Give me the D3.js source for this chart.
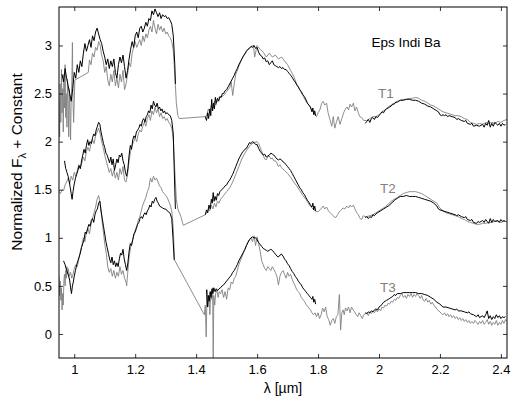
<!DOCTYPE html>
<html><head><meta charset="utf-8">
<script src="https://cdn.jsdelivr.net/npm/d3@7"></script>
<style>
html,body{margin:0;padding:0;background:#fff;}
text{font-family:"Liberation Sans",Arial,Helvetica,sans-serif;}
</style></head>
<body><svg id="c" width="512" height="396"></svg>
<script>
// ---------------- DATA ----------------
const xTicks = [1, 1.2, 1.4, 1.6, 1.8, 2, 2.2, 2.4];
const yTicks = [0, 0.5, 1, 1.5, 2, 2.5, 3];
const labels = [["Eps Indi Ba", 1.975, 2.98, "#000"], ["T1", 1.997, 2.45, "#808080"], ["T2", 2.003, 1.47, "#808080"], ["T3", 2.003, 0.44, "#808080"]];

// observed spectrum (black), T1 offset, bands J / H / K
const t1BlackJ = [[0.960,2.70],[0.965,2.62],[0.970,2.76],[0.975,2.66],[0.980,2.58],[0.985,2.50],[0.990,2.42],[0.995,2.55],[1.000,2.72],[1.005,2.66],[1.010,2.80],[1.015,2.72],[1.020,2.84],[1.025,2.78],[1.030,2.92],[1.035,3.02],[1.040,2.94],[1.045,3.00],[1.050,3.06],[1.055,2.98],[1.060,3.10],[1.065,3.05],[1.070,3.14],[1.075,3.18],[1.080,3.12],[1.085,3.06],[1.090,3.02],[1.095,2.94],[1.100,2.88],[1.105,2.80],[1.110,2.86],[1.115,2.76],[1.120,2.84],[1.125,2.78],[1.130,2.86],[1.135,2.72],[1.140,2.66],[1.145,2.80],[1.150,2.88],[1.155,2.82],[1.160,2.90],[1.165,2.78],[1.170,2.66],[1.175,2.74],[1.180,2.86],[1.185,2.96],[1.190,3.04],[1.195,2.98],[1.200,3.10],[1.205,3.14],[1.210,3.08],[1.215,3.18],[1.220,3.20],[1.225,3.14],[1.230,3.18],[1.235,3.24],[1.240,3.20],[1.245,3.28],[1.250,3.26],[1.255,3.36],[1.260,3.32],[1.265,3.38],[1.270,3.34],[1.275,3.30],[1.280,3.34],[1.285,3.28],[1.290,3.32],[1.295,3.30],[1.300,3.31],[1.305,3.28],[1.310,3.29],[1.315,3.26],[1.320,3.22],[1.325,3.10],[1.330,2.80],[1.332,2.60]];
const t1BlackH = [[1.430,2.26],[1.434,2.22],[1.438,2.30],[1.441,2.24],[1.445,2.34],[1.448,2.27],[1.451,2.44],[1.454,2.32],[1.457,2.40],[1.460,2.34],[1.463,2.46],[1.466,2.40],[1.470,2.45],[1.474,2.42],[1.478,2.47],[1.482,2.46],[1.486,2.50],[1.490,2.50],[1.495,2.53],[1.500,2.54],[1.505,2.57],[1.510,2.60],[1.515,2.63],[1.520,2.66],[1.525,2.69],[1.530,2.73],[1.535,2.76],[1.540,2.80],[1.545,2.83],[1.550,2.86],[1.555,2.89],[1.560,2.91],[1.565,2.94],[1.570,2.96],[1.575,2.97],[1.580,2.99],[1.585,2.98],[1.590,3.00],[1.595,2.97],[1.600,2.98],[1.605,2.93],[1.610,2.90],[1.615,2.89],[1.620,2.86],[1.625,2.87],[1.630,2.83],[1.635,2.84],[1.640,2.80],[1.645,2.82],[1.650,2.84],[1.655,2.80],[1.660,2.79],[1.665,2.78],[1.670,2.77],[1.675,2.78],[1.680,2.76],[1.685,2.77],[1.690,2.75],[1.695,2.75],[1.700,2.73],[1.705,2.71],[1.710,2.69],[1.715,2.67],[1.720,2.64],[1.725,2.62],[1.730,2.59],[1.735,2.57],[1.740,2.54],[1.745,2.52],[1.750,2.49],[1.755,2.47],[1.760,2.44],[1.765,2.40],[1.770,2.38],[1.775,2.36],[1.780,2.31],[1.783,2.35],[1.786,2.28],[1.789,2.32],[1.792,2.27]];
const t1BlackK = [[1.955,2.19],[1.960,2.21],[1.965,2.23],[1.970,2.20],[1.975,2.24],[1.980,2.25],[1.985,2.23],[1.990,2.26],[1.995,2.25],[2.000,2.27],[2.005,2.29],[2.010,2.31],[2.015,2.30],[2.020,2.33],[2.025,2.34],[2.030,2.35],[2.035,2.36],[2.040,2.37],[2.045,2.39],[2.050,2.39],[2.055,2.41],[2.060,2.41],[2.065,2.42],[2.070,2.43],[2.080,2.43],[2.090,2.44],[2.100,2.44],[2.110,2.43],[2.120,2.43],[2.130,2.42],[2.140,2.40],[2.150,2.39],[2.160,2.37],[2.170,2.36],[2.180,2.34],[2.190,2.32],[2.195,2.31],[2.200,2.28],[2.205,2.27],[2.210,2.28],[2.215,2.27],[2.220,2.28],[2.225,2.26],[2.230,2.27],[2.240,2.26],[2.250,2.25],[2.255,2.23],[2.260,2.24],[2.270,2.22],[2.280,2.21],[2.285,2.22],[2.290,2.19],[2.300,2.18],[2.305,2.19],[2.310,2.16],[2.320,2.17],[2.330,2.16],[2.340,2.18],[2.345,2.15],[2.350,2.19],[2.355,2.17],[2.360,2.22],[2.365,2.15],[2.370,2.19],[2.375,2.16],[2.380,2.20],[2.390,2.17],[2.395,2.19],[2.400,2.16],[2.405,2.19],[2.410,2.17],[2.415,2.18]];
// T1 template (gray)
const t1Gray = [[0.950,2.45],[0.952,2.05],[0.954,2.60],[0.956,2.20],[0.958,2.75],[0.960,2.30],[0.962,2.55],[0.964,2.10],[0.966,2.70],[0.968,2.35],[0.970,2.80],[0.972,2.25],[0.974,2.50],[0.976,2.15],[0.978,2.65],[0.980,2.40],[0.982,2.05],[0.984,2.55],[0.986,2.30],[0.988,2.02],[0.990,2.45],[0.992,2.60],[0.994,3.03],[0.996,2.40],[0.998,2.20],[1.002,2.64],[1.046,2.72],[1.050,2.85],[1.055,2.80],[1.060,2.92],[1.065,2.88],[1.070,2.98],[1.075,2.95],[1.080,3.04],[1.085,3.00],[1.090,2.90],[1.095,2.84],[1.100,2.72],[1.105,2.78],[1.110,2.64],[1.115,2.58],[1.120,2.70],[1.125,2.62],[1.130,2.74],[1.135,2.58],[1.140,2.66],[1.145,2.56],[1.150,2.70],[1.155,2.62],[1.160,2.74],[1.165,2.54],[1.170,2.60],[1.175,2.70],[1.180,2.82],[1.185,2.78],[1.190,2.92],[1.195,2.98],[1.200,3.04],[1.205,2.98],[1.210,3.02],[1.215,3.06],[1.220,3.00],[1.225,3.10],[1.230,3.04],[1.235,3.12],[1.240,3.08],[1.245,3.16],[1.250,3.20],[1.255,3.14],[1.260,3.26],[1.265,3.18],[1.270,3.12],[1.275,3.22],[1.280,3.16],[1.285,3.20],[1.290,3.14],[1.295,3.18],[1.300,3.12],[1.305,3.14],[1.310,3.10],[1.315,3.08],[1.320,3.04],[1.325,2.95],[1.330,2.70],[1.335,2.40],[1.340,2.27],[1.345,2.24],[1.430,2.26],[1.435,2.28],[1.440,2.34],[1.445,2.30],[1.450,2.38],[1.455,2.35],[1.460,2.42],[1.465,2.38],[1.470,2.45],[1.480,2.46],[1.490,2.48],[1.500,2.52],[1.510,2.56],[1.515,2.62],[1.520,2.48],[1.525,2.60],[1.530,2.70],[1.540,2.78],[1.550,2.86],[1.560,2.92],[1.570,2.96],[1.580,2.99],[1.588,3.00],[1.592,2.88],[1.600,3.00],[1.610,2.96],[1.620,2.93],[1.630,2.88],[1.640,2.92],[1.650,2.88],[1.660,2.90],[1.670,2.86],[1.680,2.88],[1.690,2.84],[1.700,2.80],[1.710,2.74],[1.720,2.68],[1.730,2.60],[1.740,2.54],[1.750,2.48],[1.760,2.42],[1.770,2.38],[1.780,2.33],[1.790,2.28],[1.795,2.26],[1.800,2.30],[1.806,2.33],[1.812,2.40],[1.817,2.42],[1.822,2.38],[1.828,2.40],[1.833,2.30],[1.839,2.23],[1.845,2.16],[1.850,2.26],[1.855,2.14],[1.860,2.20],[1.866,2.26],[1.872,2.18],[1.878,2.24],[1.884,2.30],[1.890,2.34],[1.895,2.36],[1.900,2.33],[1.905,2.39],[1.910,2.36],[1.916,2.40],[1.921,2.32],[1.926,2.36],[1.932,2.30],[1.937,2.26],[1.943,2.25],[1.950,2.22],[1.960,2.22],[1.970,2.24],[1.980,2.26],[1.990,2.26],[2.000,2.28],[2.010,2.31],[2.020,2.33],[2.030,2.36],[2.040,2.38],[2.050,2.40],[2.060,2.42],[2.070,2.43],[2.080,2.44],[2.090,2.44],[2.100,2.45],[2.110,2.45],[2.120,2.46],[2.130,2.45],[2.140,2.43],[2.150,2.42],[2.160,2.40],[2.170,2.38],[2.180,2.37],[2.190,2.35],[2.200,2.33],[2.210,2.31],[2.220,2.30],[2.230,2.29],[2.240,2.28],[2.250,2.27],[2.260,2.27],[2.270,2.26],[2.280,2.24],[2.290,2.23],[2.300,2.20],[2.310,2.19],[2.320,2.18],[2.330,2.19],[2.340,2.18],[2.350,2.20],[2.360,2.19],[2.370,2.20],[2.380,2.19],[2.390,2.21],[2.400,2.20],[2.410,2.22],[2.420,2.23]];

// T2 offset
const t2BlackJ = [[0.968,1.80],[0.972,1.72],[0.976,1.68],[0.980,1.64],[0.984,1.58],[0.987,1.52],[0.990,1.46],[0.993,1.40],[0.996,1.48],[1.000,1.56],[1.004,1.62],[1.008,1.66],[1.012,1.70],[1.016,1.75],[1.020,1.72],[1.024,1.80],[1.028,1.86],[1.032,1.92],[1.036,1.88],[1.040,1.96],[1.044,2.02],[1.048,1.96],[1.052,2.00],[1.056,1.98],[1.060,2.04],[1.064,2.08],[1.068,2.06],[1.072,2.12],[1.076,2.16],[1.080,2.20],[1.084,2.18],[1.088,2.10],[1.092,2.04],[1.096,1.98],[1.100,1.94],[1.104,1.88],[1.108,1.86],[1.112,1.82],[1.116,1.78],[1.120,1.84],[1.124,1.76],[1.128,1.82],[1.132,1.70],[1.136,1.76],[1.140,1.82],[1.144,1.78],[1.148,1.86],[1.152,1.84],[1.156,1.88],[1.160,1.80],[1.164,1.76],[1.168,1.68],[1.172,1.64],[1.176,1.72],[1.180,1.86],[1.184,1.96],[1.188,1.92],[1.192,2.02],[1.196,2.06],[1.200,2.04],[1.204,2.10],[1.208,2.12],[1.212,2.14],[1.216,2.18],[1.220,2.16],[1.224,2.22],[1.228,2.24],[1.232,2.20],[1.236,2.26],[1.240,2.28],[1.244,2.32],[1.248,2.30],[1.252,2.38],[1.256,2.34],[1.260,2.42],[1.264,2.38],[1.268,2.36],[1.272,2.40],[1.276,2.34],[1.280,2.36],[1.284,2.32],[1.288,2.34],[1.292,2.30],[1.296,2.32],[1.300,2.29],[1.305,2.30],[1.310,2.28],[1.315,2.27],[1.320,2.22],[1.325,2.08],[1.329,1.60],[1.332,1.30]];
const t2BlackH = [[1.430,1.24],[1.434,1.29],[1.438,1.26],[1.442,1.34],[1.446,1.30],[1.450,1.40],[1.453,1.36],[1.456,1.47],[1.459,1.38],[1.462,1.43],[1.466,1.39],[1.470,1.46],[1.474,1.44],[1.478,1.48],[1.484,1.50],[1.490,1.52],[1.495,1.54],[1.500,1.55],[1.505,1.58],[1.510,1.60],[1.515,1.63],[1.520,1.66],[1.525,1.70],[1.530,1.74],[1.535,1.78],[1.540,1.82],[1.545,1.85],[1.550,1.88],[1.555,1.90],[1.560,1.92],[1.565,1.93],[1.570,1.96],[1.575,1.99],[1.580,1.98],[1.585,2.00],[1.590,1.99],[1.595,1.97],[1.600,1.97],[1.605,1.93],[1.610,1.90],[1.615,1.88],[1.620,1.86],[1.625,1.87],[1.630,1.84],[1.635,1.85],[1.640,1.86],[1.645,1.88],[1.650,1.87],[1.655,1.86],[1.660,1.84],[1.665,1.82],[1.670,1.81],[1.675,1.82],[1.680,1.81],[1.685,1.79],[1.690,1.78],[1.695,1.76],[1.700,1.74],[1.705,1.72],[1.710,1.70],[1.715,1.67],[1.720,1.64],[1.725,1.61],[1.730,1.58],[1.735,1.55],[1.740,1.52],[1.745,1.50],[1.750,1.47],[1.755,1.45],[1.760,1.42],[1.765,1.39],[1.770,1.37],[1.775,1.34],[1.780,1.32],[1.783,1.36],[1.786,1.29],[1.789,1.33],[1.792,1.28]];
const t2BlackK = [[1.955,1.21],[1.960,1.22],[1.965,1.20],[1.970,1.22],[1.975,1.21],[1.980,1.24],[1.985,1.23],[1.990,1.25],[1.995,1.26],[2.000,1.27],[2.005,1.28],[2.010,1.29],[2.015,1.30],[2.020,1.31],[2.025,1.32],[2.030,1.33],[2.035,1.34],[2.040,1.36],[2.045,1.37],[2.050,1.39],[2.055,1.40],[2.060,1.41],[2.065,1.42],[2.070,1.43],[2.080,1.43],[2.090,1.44],[2.100,1.43],[2.110,1.43],[2.120,1.43],[2.130,1.42],[2.140,1.41],[2.150,1.40],[2.160,1.39],[2.170,1.38],[2.180,1.36],[2.190,1.33],[2.195,1.30],[2.200,1.29],[2.210,1.28],[2.220,1.27],[2.230,1.26],[2.240,1.25],[2.250,1.24],[2.255,1.23],[2.260,1.24],[2.270,1.22],[2.280,1.21],[2.285,1.22],[2.290,1.19],[2.300,1.18],[2.305,1.19],[2.310,1.16],[2.320,1.15],[2.325,1.17],[2.330,1.16],[2.340,1.18],[2.345,1.16],[2.350,1.19],[2.355,1.17],[2.360,1.15],[2.365,1.20],[2.370,1.16],[2.375,1.19],[2.380,1.17],[2.390,1.18],[2.395,1.16],[2.400,1.19],[2.405,1.17],[2.410,1.18],[2.415,1.17]];
const t2Gray = [[0.950,1.48],[0.955,1.46],[0.960,1.50],[0.965,1.49],[0.970,1.55],[0.975,1.58],[0.980,1.62],[0.985,1.56],[0.990,1.64],[0.995,1.60],[1.000,1.68],[1.005,1.64],[1.010,1.70],[1.015,1.76],[1.020,1.72],[1.025,1.78],[1.030,1.84],[1.035,1.80],[1.040,1.90],[1.045,1.94],[1.050,1.90],[1.055,1.98],[1.060,2.02],[1.065,1.98],[1.070,2.06],[1.075,2.10],[1.080,2.14],[1.085,2.08],[1.090,2.00],[1.095,1.94],[1.100,1.86],[1.105,1.80],[1.110,1.74],[1.115,1.68],[1.120,1.72],[1.125,1.64],[1.130,1.70],[1.135,1.62],[1.140,1.68],[1.145,1.60],[1.150,1.72],[1.155,1.66],[1.160,1.74],[1.165,1.60],[1.170,1.58],[1.175,1.66],[1.180,1.80],[1.185,1.90],[1.190,1.96],[1.195,2.00],[1.200,2.04],[1.205,2.00],[1.210,2.08],[1.215,2.12],[1.220,2.10],[1.225,2.16],[1.230,2.20],[1.235,2.16],[1.240,2.24],[1.245,2.28],[1.250,2.22],[1.255,2.32],[1.260,2.28],[1.265,2.36],[1.270,2.30],[1.275,2.34],[1.280,2.26],[1.285,2.30],[1.290,2.24],[1.295,2.26],[1.300,2.22],[1.305,2.24],[1.310,2.20],[1.315,2.18],[1.320,2.14],[1.325,2.02],[1.330,1.70],[1.335,1.40],[1.340,1.30],[1.345,1.26],[1.350,1.22],[1.355,1.16],[1.358,1.13],[1.430,1.24],[1.435,1.26],[1.440,1.30],[1.445,1.28],[1.450,1.34],[1.455,1.30],[1.460,1.36],[1.465,1.32],[1.470,1.38],[1.475,1.36],[1.480,1.40],[1.490,1.44],[1.500,1.48],[1.510,1.52],[1.520,1.58],[1.530,1.66],[1.540,1.74],[1.550,1.82],[1.560,1.88],[1.570,1.93],[1.580,1.97],[1.590,1.99],[1.600,2.00],[1.605,1.98],[1.610,1.94],[1.615,1.90],[1.620,1.86],[1.625,1.82],[1.630,1.81],[1.635,1.84],[1.640,1.85],[1.645,1.82],[1.650,1.83],[1.655,1.80],[1.660,1.80],[1.665,1.78],[1.670,1.74],[1.675,1.76],[1.680,1.73],[1.690,1.70],[1.700,1.67],[1.710,1.63],[1.720,1.58],[1.730,1.54],[1.740,1.49],[1.750,1.44],[1.760,1.40],[1.770,1.35],[1.780,1.31],[1.790,1.28],[1.800,1.27],[1.806,1.29],[1.812,1.31],[1.817,1.33],[1.822,1.30],[1.828,1.32],[1.834,1.28],[1.840,1.26],[1.846,1.24],[1.852,1.22],[1.858,1.21],[1.864,1.24],[1.870,1.27],[1.876,1.29],[1.882,1.31],[1.888,1.30],[1.894,1.33],[1.900,1.31],[1.905,1.34],[1.910,1.32],[1.916,1.34],[1.921,1.30],[1.927,1.26],[1.932,1.24],[1.938,1.20],[1.943,1.19],[1.948,1.23],[1.954,1.22],[1.960,1.22],[1.970,1.23],[1.980,1.24],[1.990,1.26],[2.000,1.28],[2.010,1.30],[2.020,1.32],[2.030,1.35],[2.040,1.38],[2.050,1.40],[2.060,1.42],[2.070,1.44],[2.080,1.46],[2.090,1.47],[2.100,1.48],[2.110,1.48],[2.120,1.48],[2.130,1.47],[2.140,1.46],[2.150,1.44],[2.160,1.42],[2.170,1.40],[2.180,1.38],[2.190,1.36],[2.200,1.31],[2.210,1.28],[2.220,1.26],[2.230,1.25],[2.240,1.24],[2.250,1.23],[2.260,1.22],[2.270,1.20],[2.280,1.19],[2.290,1.17],[2.300,1.16],[2.310,1.15],[2.320,1.14],[2.330,1.14],[2.340,1.15],[2.350,1.15],[2.360,1.16],[2.370,1.16],[2.380,1.17],[2.390,1.17],[2.400,1.16],[2.410,1.17],[2.420,1.17]];

// T3 offset
const t3BlackJ = [[0.965,0.76],[0.970,0.72],[0.975,0.66],[0.980,0.62],[0.985,0.56],[0.988,0.48],[0.991,0.42],[0.994,0.50],[0.997,0.54],[1.000,0.60],[1.004,0.66],[1.008,0.72],[1.012,0.76],[1.016,0.80],[1.020,0.84],[1.024,0.90],[1.028,0.94],[1.032,0.98],[1.036,1.06],[1.040,1.04],[1.044,1.10],[1.048,1.14],[1.052,1.12],[1.056,1.18],[1.060,1.20],[1.064,1.16],[1.068,1.24],[1.072,1.28],[1.076,1.30],[1.080,1.36],[1.084,1.38],[1.088,1.28],[1.092,1.20],[1.096,1.12],[1.100,1.04],[1.104,0.96],[1.108,0.90],[1.112,0.84],[1.116,0.78],[1.120,0.74],[1.124,0.80],[1.128,0.72],[1.132,0.76],[1.136,0.70],[1.140,0.74],[1.144,0.70],[1.148,0.78],[1.152,0.84],[1.156,0.82],[1.160,0.88],[1.164,0.78],[1.168,0.72],[1.172,0.66],[1.176,0.74],[1.180,0.86],[1.184,0.94],[1.188,0.92],[1.192,0.98],[1.196,1.04],[1.200,1.06],[1.204,1.10],[1.208,1.14],[1.212,1.16],[1.216,1.20],[1.220,1.22],[1.224,1.20],[1.228,1.24],[1.232,1.26],[1.236,1.24],[1.240,1.28],[1.244,1.30],[1.248,1.34],[1.252,1.32],[1.256,1.38],[1.260,1.36],[1.264,1.40],[1.268,1.42],[1.272,1.38],[1.276,1.36],[1.280,1.33],[1.285,1.32],[1.290,1.31],[1.295,1.30],[1.300,1.30],[1.305,1.28],[1.310,1.27],[1.315,1.25],[1.320,1.20],[1.324,1.00],[1.328,0.77]];
const t3BlackH = [[1.434,0.46],[1.437,0.28],[1.440,0.40],[1.443,0.34],[1.446,0.44],[1.449,0.38],[1.452,0.47],[1.455,0.42],[1.458,0.48],[1.462,0.44],[1.466,0.47],[1.470,0.45],[1.475,0.47],[1.480,0.48],[1.485,0.50],[1.490,0.51],[1.495,0.53],[1.500,0.55],[1.505,0.57],[1.510,0.59],[1.515,0.61],[1.520,0.64],[1.525,0.66],[1.530,0.69],[1.535,0.72],[1.540,0.76],[1.545,0.79],[1.550,0.82],[1.555,0.85],[1.560,0.88],[1.565,0.92],[1.570,0.95],[1.575,0.98],[1.580,1.00],[1.585,1.01],[1.590,1.00],[1.595,1.00],[1.600,0.98],[1.605,0.95],[1.610,0.93],[1.615,0.91],[1.620,0.89],[1.625,0.88],[1.630,0.87],[1.635,0.86],[1.640,0.87],[1.645,0.88],[1.650,0.87],[1.655,0.85],[1.660,0.83],[1.665,0.81],[1.670,0.80],[1.675,0.82],[1.680,0.83],[1.685,0.81],[1.690,0.78],[1.695,0.76],[1.700,0.73],[1.705,0.71],[1.710,0.68],[1.715,0.65],[1.720,0.63],[1.725,0.60],[1.730,0.58],[1.735,0.55],[1.740,0.53],[1.745,0.51],[1.750,0.48],[1.755,0.46],[1.760,0.44],[1.765,0.42],[1.770,0.40],[1.775,0.38],[1.780,0.36],[1.783,0.39],[1.786,0.33],[1.789,0.36],[1.792,0.31]];
const t3BlackK = [[1.955,0.22],[1.960,0.21],[1.965,0.23],[1.970,0.22],[1.975,0.24],[1.980,0.23],[1.985,0.25],[1.990,0.26],[1.995,0.25],[2.000,0.28],[2.005,0.29],[2.010,0.31],[2.015,0.33],[2.020,0.34],[2.025,0.35],[2.030,0.36],[2.035,0.37],[2.040,0.38],[2.045,0.39],[2.050,0.41],[2.055,0.40],[2.060,0.42],[2.070,0.42],[2.080,0.43],[2.090,0.43],[2.100,0.43],[2.110,0.43],[2.120,0.43],[2.130,0.42],[2.140,0.42],[2.150,0.41],[2.160,0.40],[2.170,0.38],[2.180,0.36],[2.190,0.33],[2.200,0.31],[2.210,0.28],[2.220,0.28],[2.230,0.27],[2.240,0.26],[2.250,0.25],[2.255,0.26],[2.260,0.24],[2.270,0.24],[2.280,0.23],[2.290,0.22],[2.295,0.23],[2.300,0.21],[2.310,0.20],[2.320,0.18],[2.325,0.20],[2.330,0.17],[2.340,0.19],[2.345,0.17],[2.350,0.20],[2.355,0.24],[2.360,0.16],[2.365,0.19],[2.370,0.15],[2.375,0.18],[2.380,0.16],[2.385,0.20],[2.390,0.17],[2.395,0.19],[2.400,0.16],[2.405,0.18],[2.410,0.17],[2.415,0.18]];
const t3Gray = [[0.950,0.60],[0.952,0.40],[0.954,0.55],[0.956,0.35],[0.958,0.48],[0.960,0.25],[0.962,0.42],[0.964,0.30],[0.966,0.55],[0.968,0.62],[0.970,0.50],[0.972,0.66],[0.974,0.58],[0.976,0.70],[0.978,0.62],[0.980,0.68],[0.984,0.60],[0.988,0.64],[0.992,0.58],[0.996,0.62],[1.000,0.68],[1.005,0.72],[1.010,0.70],[1.015,0.78],[1.020,0.86],[1.025,0.92],[1.030,1.00],[1.035,0.96],[1.040,1.06],[1.045,1.10],[1.050,1.04],[1.055,1.14],[1.060,1.20],[1.065,1.26],[1.070,1.32],[1.075,1.40],[1.080,1.44],[1.085,1.36],[1.090,1.22],[1.095,1.08],[1.100,0.94],[1.105,0.84],[1.110,0.70],[1.115,0.64],[1.120,0.68],[1.125,0.60],[1.130,0.66],[1.135,0.58],[1.140,0.64],[1.145,0.60],[1.150,0.70],[1.155,0.62],[1.160,0.66],[1.165,0.58],[1.170,0.54],[1.172,0.50],[1.175,0.62],[1.180,0.80],[1.185,0.90],[1.190,0.96],[1.195,1.02],[1.200,1.08],[1.205,1.12],[1.210,1.18],[1.215,1.22],[1.220,1.28],[1.225,1.34],[1.230,1.38],[1.235,1.42],[1.240,1.48],[1.245,1.52],[1.250,1.62],[1.255,1.58],[1.260,1.64],[1.265,1.60],[1.270,1.62],[1.275,1.58],[1.280,1.54],[1.285,1.52],[1.290,1.48],[1.295,1.46],[1.300,1.44],[1.305,1.42],[1.310,1.38],[1.315,1.34],[1.320,1.28],[1.325,1.10],[1.329,0.77],[1.427,0.20],[1.430,0.30],[1.433,-0.03],[1.436,0.46],[1.439,0.28],[1.442,0.40],[1.445,0.20],[1.448,0.44],[1.451,0.36],[1.454,0.48],[1.456,-0.25],[1.458,0.40],[1.461,0.30],[1.464,0.42],[1.468,0.46],[1.472,0.38],[1.476,0.44],[1.480,0.42],[1.485,0.46],[1.490,0.38],[1.495,0.44],[1.500,0.36],[1.505,0.48],[1.510,0.46],[1.515,0.54],[1.520,0.52],[1.525,0.58],[1.530,0.60],[1.535,0.66],[1.540,0.72],[1.545,0.76],[1.550,0.80],[1.555,0.84],[1.560,0.88],[1.565,0.92],[1.570,0.96],[1.575,0.98],[1.580,1.00],[1.585,0.96],[1.590,1.02],[1.595,0.92],[1.600,1.01],[1.605,0.94],[1.610,0.86],[1.615,0.76],[1.620,0.72],[1.625,0.68],[1.630,0.66],[1.635,0.70],[1.640,0.68],[1.645,0.66],[1.650,0.70],[1.655,0.67],[1.660,0.64],[1.665,0.60],[1.670,0.51],[1.675,0.60],[1.680,0.64],[1.685,0.66],[1.690,0.62],[1.695,0.58],[1.700,0.64],[1.705,0.60],[1.710,0.62],[1.715,0.57],[1.720,0.53],[1.725,0.50],[1.730,0.46],[1.735,0.44],[1.740,0.42],[1.745,0.38],[1.750,0.36],[1.755,0.34],[1.760,0.31],[1.765,0.29],[1.770,0.27],[1.775,0.25],[1.780,0.22],[1.785,0.20],[1.790,0.22],[1.795,0.18],[1.800,0.22],[1.805,0.16],[1.810,0.20],[1.815,0.27],[1.820,0.23],[1.825,0.28],[1.830,0.18],[1.835,0.15],[1.840,0.09],[1.845,0.14],[1.850,0.16],[1.855,0.11],[1.860,0.18],[1.865,0.20],[1.870,0.41],[1.874,0.04],[1.878,0.22],[1.882,0.25],[1.886,0.20],[1.890,0.27],[1.895,0.24],[1.900,0.28],[1.905,0.22],[1.910,0.28],[1.915,0.25],[1.920,0.23],[1.925,0.20],[1.930,0.18],[1.935,0.22],[1.940,0.19],[1.945,0.16],[1.950,0.20],[1.955,0.21],[1.960,0.22],[1.965,0.19],[1.970,0.23],[1.975,0.21],[1.980,0.24],[1.985,0.22],[1.990,0.25],[1.995,0.23],[2.000,0.26],[2.005,0.24],[2.010,0.28],[2.015,0.27],[2.020,0.30],[2.025,0.29],[2.030,0.32],[2.035,0.31],[2.040,0.34],[2.045,0.33],[2.050,0.36],[2.055,0.35],[2.060,0.38],[2.065,0.37],[2.070,0.40],[2.075,0.42],[2.080,0.38],[2.085,0.40],[2.090,0.37],[2.095,0.41],[2.100,0.39],[2.105,0.42],[2.110,0.38],[2.115,0.41],[2.120,0.39],[2.125,0.42],[2.130,0.40],[2.135,0.37],[2.140,0.40],[2.145,0.35],[2.150,0.34],[2.155,0.37],[2.160,0.33],[2.165,0.35],[2.170,0.31],[2.175,0.33],[2.180,0.30],[2.185,0.28],[2.190,0.26],[2.195,0.24],[2.200,0.23],[2.205,0.21],[2.210,0.20],[2.215,0.22],[2.220,0.19],[2.225,0.21],[2.230,0.18],[2.235,0.20],[2.240,0.17],[2.245,0.19],[2.250,0.16],[2.255,0.18],[2.260,0.15],[2.265,0.17],[2.270,0.14],[2.275,0.16],[2.280,0.13],[2.285,0.15],[2.290,0.12],[2.295,0.14],[2.300,0.11],[2.305,0.13],[2.310,0.11],[2.315,0.14],[2.320,0.12],[2.325,0.10],[2.330,0.13],[2.335,0.11],[2.340,0.14],[2.345,0.10],[2.350,0.12],[2.355,0.15],[2.360,0.10],[2.365,0.13],[2.370,0.09],[2.375,0.12],[2.380,0.10],[2.385,0.14],[2.390,0.09],[2.395,0.12],[2.400,0.10],[2.405,0.14],[2.410,0.11],[2.415,0.15],[2.420,0.13]];

// ---------------- CHART ----------------
const svg = d3.select("#c");
const L = 59, R = 507, T = 7, B = 358;
const x = d3.scaleLinear().domain([0.95, 2.42]).range([L, R]);
const y = d3.scaleLinear().domain([-0.25, 3.4]).range([B, T]);
const GRAY = "#808080";

svg.append("defs").append("clipPath").attr("id", "clip")
  .append("rect").attr("x", L).attr("y", T).attr("width", R - L).attr("height", B - T);

const line = d3.line().x(d => x(d[0])).y(d => y(d[1]));
const g = svg.append("g").attr("clip-path", "url(#clip)");
[t1Gray, t2Gray, t3Gray].forEach(s =>
  g.append("path").datum(s).attr("d", line).attr("fill", "none").attr("stroke", GRAY).attr("stroke-width", 0.9).attr("stroke-linejoin", "round"));
[t1BlackJ, t1BlackH, t1BlackK, t2BlackJ, t2BlackH, t2BlackK, t3BlackJ, t3BlackH, t3BlackK].forEach(s =>
  g.append("path").datum(s).attr("d", line).attr("fill", "none").attr("stroke", "#000").attr("stroke-width", 1).attr("stroke-linejoin", "round"));

// axes
const fmt = d => String(d);
const ax = (gen, tx, ty, labelsOn) => {
  const a = svg.append("g").attr("transform", `translate(${tx},${ty})`).call(gen);
  a.select(".domain").remove();
  a.selectAll("line").attr("stroke", "#000").attr("stroke-width", 0.8);
  a.selectAll("text").attr("fill", "#000").style("font-size", "13px");
  if (!labelsOn) a.selectAll("text").remove();
  return a;
};
ax(d3.axisBottom(x).tickValues(xTicks).tickFormat(fmt).tickSizeInner(-4).tickSizeOuter(0).tickPadding(7), 0, B, true);
ax(d3.axisTop(x).tickValues(xTicks).tickSizeInner(-4).tickSizeOuter(0), 0, T, false);
ax(d3.axisLeft(y).tickValues(yTicks).tickFormat(fmt).tickSizeInner(-4).tickSizeOuter(0).tickPadding(7), L, 0, true);
ax(d3.axisRight(y).tickValues(yTicks).tickSizeInner(-4).tickSizeOuter(0), R, 0, false);

svg.append("rect").attr("x", L).attr("y", T).attr("width", R - L).attr("height", B - T)
  .attr("fill", "none").attr("stroke", "#000").attr("stroke-width", 1);

// labels
svg.append("text").attr("x", (L + R) / 2).attr("y", 393).attr("text-anchor", "middle")
  .style("font-size", "14px").text("λ [µm]");
const yl = svg.append("text").attr("transform", "translate(22,162) rotate(-90)").attr("text-anchor", "middle")
  .style("font-size", "15.5px");
yl.append("tspan").text("Normalized F");
yl.append("tspan").attr("dy", 4).style("font-size", "11px").text("λ");
yl.append("tspan").attr("dy", -4).text(" + Constant");

labels.forEach(([t, lx, ly, c]) =>
  svg.append("text").attr("x", x(lx)).attr("y", y(ly)).attr("fill", c).style("font-size", "13.5px").text(t));
</script>
</body></html>
